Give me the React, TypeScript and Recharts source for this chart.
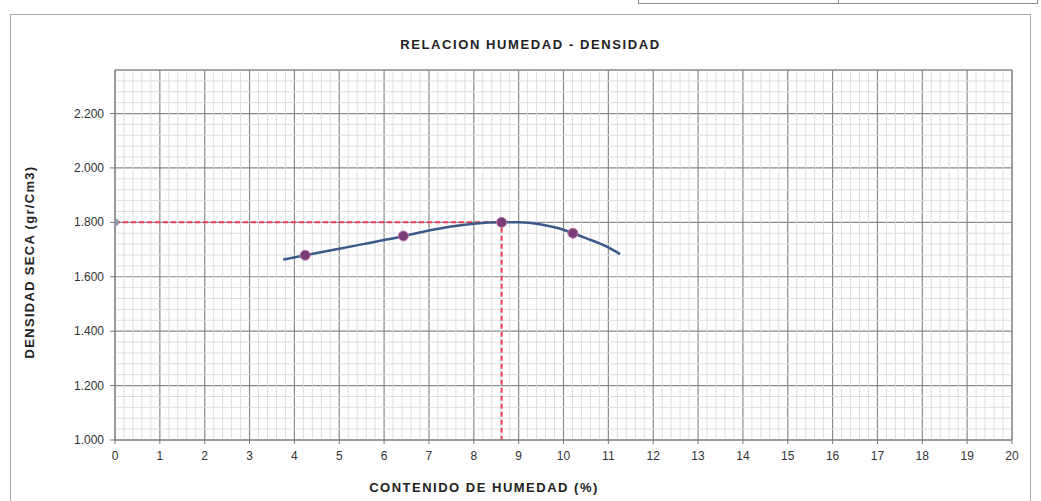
import React from "react";
import {
  ComposedChart,
  Line,
  Scatter,
  XAxis,
  YAxis,
  ReferenceLine,
  CartesianGrid,
} from "recharts";

// Ensayo: puntos medidos (contenido de humedad %, densidad seca gr/cm3)
const humedad = [4.24, 6.43, 8.62, 10.21];
const densidad = [1.679, 1.75, 1.8, 1.76];

// Curva de ajuste
const curvaX = [3.75, 4.24, 5.0, 5.5, 6.0, 6.43, 7.0, 7.5, 8.0, 8.62, 9.0, 9.5, 10.0, 10.21, 10.5, 11.0, 11.26];
const curvaY = [1.663, 1.679, 1.703, 1.719, 1.735, 1.749, 1.77, 1.785, 1.795, 1.8, 1.8, 1.792, 1.773, 1.76, 1.742, 1.708, 1.683];

// Líneas de óptimo (humedad óptima / densidad máxima)
const optimoX = [0, 8.62, 8.62];
const optimoY = [1.8, 1.8, 1.0];

const xTicks = [0, 1, 2, 3, 4, 5, 6, 7, 8, 9, 10, 11, 12, 13, 14, 15, 16, 17, 18, 19, 20];
const yTicks = [1.0, 1.2, 1.4, 1.6, 1.8, 2.0, 2.2];

const title = "RELACION HUMEDAD - DENSIDAD";
const xLabel = "CONTENIDO DE HUMEDAD (%)";
const yLabel = "DENSIDAD SECA (gr/Cm3)";

const puntos = humedad.map((x, i) => ({ x, y: densidad[i] }));
const curva = curvaX.map((x, i) => ({ x, y: curvaY[i] }));
const optimo = optimoX.map((x, i) => ({ x, y: optimoY[i] }));

// minor grid positions (styling only)
const minorX: number[] = [];
for (let i = 0; i <= 100; i++) if (i % 5 !== 0) minorX.push(i / 5);
const minorY: number[] = [];
for (let i = 0; i <= 34; i++) if (i % 5 !== 0) minorY.push(1 + i * 0.04);

const font = "'Liberation Sans', Arial, sans-serif";

const optimoDot = (p: any) => {
  if (p.index === 2) return <g key={"od" + p.index} />;
  const fill = p.index === 0 ? "#8a9ab0" : "#c0607a";
  return <circle key={"od" + p.index} cx={p.cx} cy={p.cy} r={3.5} fill={fill} stroke={fill} />;
};

const XTick = (p: any) => (
  <text x={p.x} y={p.y + 12} textAnchor="middle" fontSize={12} fontFamily={font} fill="#333">
    {p.payload.value}
  </text>
);
const YTick = (p: any) => (
  <text x={p.x} y={p.y + 4} textAnchor="end" fontSize={12} fontFamily={font} fill="#333">
    {Number(p.payload.value).toFixed(3)}
  </text>
);

export default function App() {
  return (
    <div style={{ position: "absolute", left: 0, top: 0, width: 1041, height: 501, background: "#fff", fontFamily: font, overflow: "hidden" }}>
      <div style={{ position: "absolute", left: 638, top: -10, width: 400, height: 14, border: "1px solid #888", boxSizing: "border-box" }} />
      <div style={{ position: "absolute", left: 838, top: -10, width: 1, height: 14, background: "#888" }} />
      <div style={{ position: "absolute", left: 10, top: 14, width: 1021, height: 500, border: "1px solid #aaa", boxSizing: "border-box" }} />
      <div style={{ position: "absolute", left: 0, top: 0 }}>
        <ComposedChart
          width={1041}
          height={501}
          margin={{ top: 70, right: 29, left: 0, bottom: 0 }}
        >
          {minorX.map((v) => (
            <ReferenceLine key={"mx" + v} x={v} stroke="#dedede" strokeWidth={1} />
          ))}
          {minorY.map((v) => (
            <ReferenceLine key={"my" + v} y={v} stroke="#dedede" strokeWidth={1} />
          ))}
          <CartesianGrid stroke="#8a8a8a" strokeWidth={1.2} />
          <ReferenceLine y={2.36} stroke="#8a8a8a" strokeWidth={1.2} />
          <ReferenceLine x={20} stroke="#8a8a8a" strokeWidth={1.2} />
          <XAxis
            type="number"
            dataKey="x"
            domain={[0, 20]}
            ticks={xTicks}
            interval={0}
            height={61}
            tickSize={4}
            tickMargin={4}
            stroke="#777"
            tick={<XTick />}
            allowDataOverflow
          />
          <YAxis
            type="number"
            dataKey="y"
            domain={[1.0, 2.36]}
            ticks={yTicks}
            interval={0}
            width={115}
            tickSize={5}
            tickMargin={6}
            stroke="#777"
            tick={<YTick />}
            allowDataOverflow
          />
          <Line
            data={optimo}
            dataKey="y"
            type="linear"
            stroke="#e8414f"
            strokeWidth={2}
            strokeDasharray="5 3"
            dot={optimoDot}
            isAnimationActive={false}
          />
          <Line
            data={curva}
            dataKey="y"
            type="monotone"
            stroke="#3b5b8c"
            strokeWidth={2.5}
            dot={false}
            isAnimationActive={false}
          />
          <Scatter
            data={puntos}
            dataKey="y"
            fill="#7a3d78"
            shape={(p: any) => <circle cx={p.cx} cy={p.cy} r={5} fill="#7a3d78" stroke="#c07aa8" strokeWidth={1} />}
            isAnimationActive={false}
          />
        </ComposedChart>
      </div>
      <div style={{ position: "absolute", left: 0, width: 1061, top: 37, textAlign: "center", fontSize: 13, fontWeight: "bold", color: "#222", letterSpacing: 1.6, whiteSpace: "nowrap" }}>
        {title}
      </div>
      <div style={{ position: "absolute", left: 344, width: 280, top: 480, textAlign: "center", fontSize: 13, fontWeight: "bold", color: "#222", whiteSpace: "nowrap", letterSpacing: 1.5 }}>
        {xLabel}
      </div>
      <div
        style={{
          position: "absolute",
          left: 29,
          top: 262,
          transform: "translate(-50%, -50%) rotate(-90deg)",
          fontSize: 13,
          fontWeight: "bold",
          color: "#222",
          whiteSpace: "nowrap",
          letterSpacing: 1.3,
        }}
      >
        {yLabel}
      </div>
    </div>
  );
}
